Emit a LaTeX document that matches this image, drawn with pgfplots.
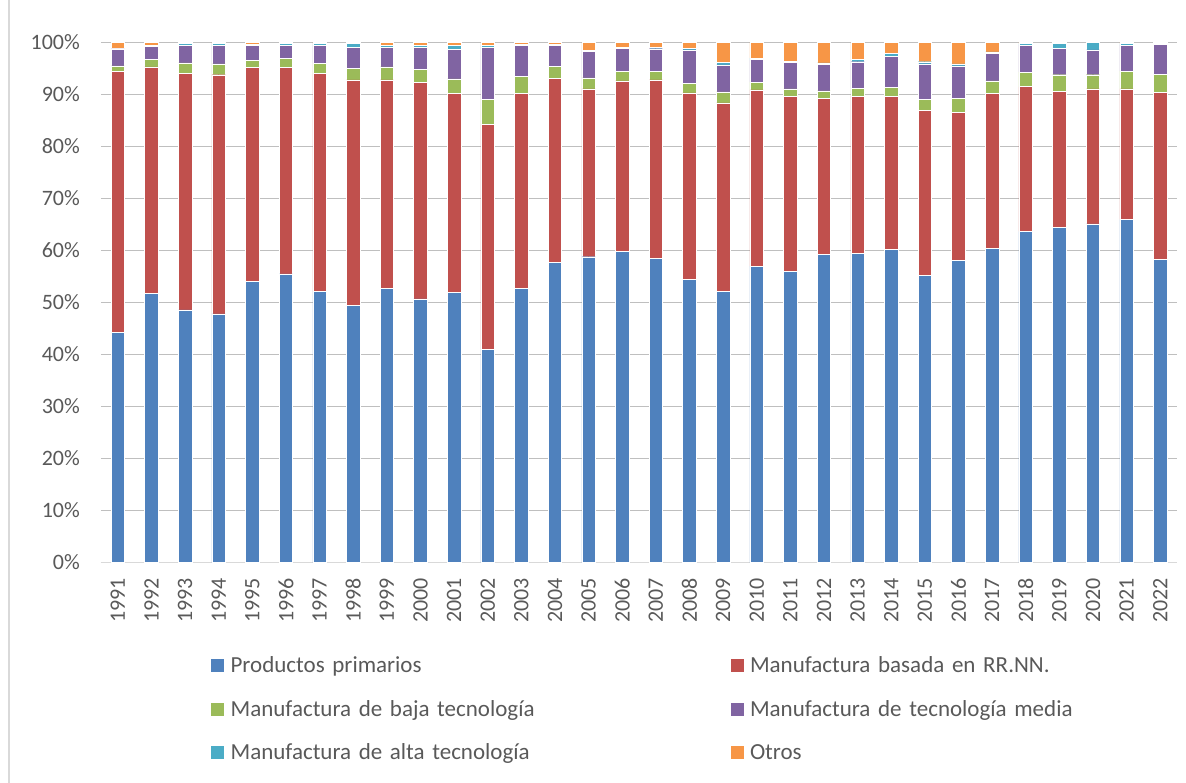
\documentclass[border=0pt]{standalone}
\usepackage{pgfplots}
\usepackage{pgfplotstable}
\usepackage{fontspec}
\setmainfont{Carlito}
\pgfplotsset{compat=1.18}
\definecolor{cB}{HTML}{4F81BD}
\definecolor{cR}{HTML}{C0504D}
\definecolor{cG}{HTML}{9BBB59}
\definecolor{cP}{HTML}{8064A2}
\definecolor{cT}{HTML}{4BACC6}
\definecolor{cO}{HTML}{F79646}
\definecolor{txt}{HTML}{595959}
\definecolor{grid}{HTML}{D9D9D9}
\pgfplotstableread{
x b r g p t o
0 44.2 50.2 1.1 3.25 0.15 1.1
1 51.7 43.6 1.5 2.4 0.3 0.5
2 48.6 45.4 2.1 3.3 0.4 0.2
3 47.8 46.0 2.1 3.5 0.4 0.2
4 54.1 41.1 1.4 2.8 0.3 0.3
5 55.5 39.7 1.8 2.4 0.4 0.2
6 52.1 41.9 2.0 3.4 0.4 0.2
7 49.5 43.3 2.2 4.1 0.7 0.2
8 52.7 40.1 2.5 3.7 0.5 0.5
9 50.7 41.6 2.6 4.1 0.5 0.5
10 51.9 38.3 2.8 5.7 0.8 0.5
11 41.0 43.2 4.9 9.9 0.5 0.5
12 52.7 37.5 3.3 5.9 0.3 0.3
13 57.7 35.4 2.3 4.0 0.3 0.3
14 58.8 32.3 2.1 5.1 0.2 1.5
15 59.8 32.8 1.9 4.4 0.2 0.9
16 58.5 34.3 1.7 4.3 0.3 0.9
17 54.5 35.8 1.9 6.4 0.3 1.1
18 52.2 36.2 2.1 5.2 0.5 3.8
19 57.0 33.9 1.5 4.3 0.3 3.0
20 56.0 33.7 1.4 5.1 0.2 3.6
21 59.3 29.9 1.5 5.1 0.3 3.9
22 59.5 30.2 1.5 5.1 0.4 3.3
23 60.2 29.4 1.8 6.0 0.5 2.1
24 55.2 31.8 2.1 6.8 0.4 3.7
25 58.1 28.4 2.8 6.2 0.4 4.1
26 60.4 29.8 2.4 5.3 0.3 1.8
27 63.7 27.8 2.8 5.2 0.3 0.2
28 64.5 26.1 3.2 5.1 0.9 0.2
29 65.1 26.0 2.7 4.8 1.4 0.0
30 66.0 25.1 3.4 5.0 0.3 0.2
31 58.3 32.1 3.5 5.7 0.2 0.2
}\datatable
\begin{document}
\begin{tikzpicture}
\useasboundingbox (-101bp,-220.5bp) rectangle (1085bp,562.5bp);
\draw[grid, line width=1.5bp] (-92bp,-220.5bp) -- (-92bp,562.5bp);
\begin{axis}[
  scale only axis,
  width=1076bp, height=520bp,
  at={(0,0)}, anchor=south west,
  ybar stacked,
  bar width=13.5bp,
  xmin=-0.5, xmax=31.5,
  ymin=0, ymax=100,
  xtick=data,
  xticklabels={1991,1992,1993,1994,1995,1996,1997,1998,1999,2000,2001,2002,2003,2004,2005,2006,2007,2008,2009,2010,2011,2012,2013,2014,2015,2016,2017,2018,2019,2020,2021,2022},
  ytick={0,10,...,100},
  yticklabels={0\%,10\%,20\%,30\%,40\%,50\%,60\%,70\%,80\%,90\%,100\%},
  major tick length=0pt,
  ymajorgrids,
  grid style={grid, line width=1.3bp},
  axis line style={draw=none},
  axis x line*=bottom,
  axis y line*=left,
  x axis line style={draw=grid, line width=1.3bp},
  xticklabel shift=15.5bp,
  yticklabel shift=21bp,
  xticklabel style={rotate=90, anchor=east, inner sep=0pt, font=\fontsize{22bp}{26bp}\selectfont, text=txt},
  yticklabel style={anchor=east, inner sep=0pt, font=\fontsize{22bp}{26bp}\selectfont, text=txt},
  legend image code/.code={\fill[#1] (0bp,-7bp) rectangle (14bp,7bp);},
  legend columns=2,
  legend style={
    at={(axis description cs:0,0)}, anchor=north west,
    xshift=109bp, yshift=-94bp,
    draw=none, fill=none, inner sep=0pt,
    font=\fontsize{23bp}{27bp}\selectfont, text=txt,
    nodes={inner sep=0pt},
    row sep=26bp, column sep=0pt,
    /tikz/every even column/.append style={text width=499bp, align=left},
    /tikz/every odd column/.append style={column sep=6bp},
    cells={anchor=west},
  },
]
\addplot[fill=cB, draw=white, line width=0.4bp] table[x=x,y=b]{\datatable};
\addplot[fill=cR, draw=white, line width=0.4bp] table[x=x,y=r]{\datatable};
\addplot[fill=cG, draw=white, line width=0.4bp] table[x=x,y=g]{\datatable};
\addplot[fill=cP, draw=white, line width=0.4bp] table[x=x,y=p]{\datatable};
\addplot[fill=cT, draw=white, line width=0.4bp] table[x=x,y=t]{\datatable};
\addplot[fill=cO, draw=white, line width=0.4bp] table[x=x,y=o]{\datatable};
\legend{Productos primarios, Manufactura basada en RR.NN., Manufactura de baja tecnología, Manufactura de tecnología media, Manufactura de alta tecnología, Otros}
\end{axis}
\end{tikzpicture}
\end{document}
